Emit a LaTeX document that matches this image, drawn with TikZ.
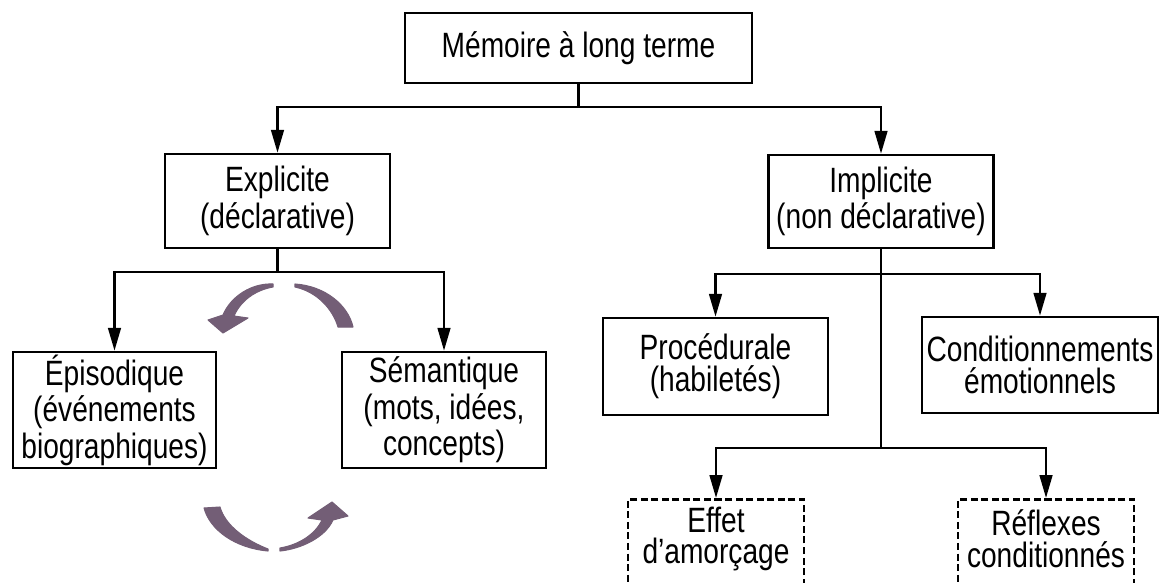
\documentclass[tikz,border=0pt]{standalone}
\usepackage{fontspec}
\setmainfont[FakeStretch=0.8]{Liberation Sans}
\usetikzlibrary{arrows.meta,positioning}

\begin{document}
\begin{tikzpicture}[x=0.01cm, y=-0.01cm,
    box/.style={draw, line width=0.7pt, align=center, inner sep=0pt,
        font=\fontsize{10}{9}\selectfont},
    dashbox/.style={draw, dash pattern=on 2pt off 1pt, line width=0.8pt},
    boxtext/.style={align=center, inner sep=0pt, font=\fontsize{10}{9}\selectfont},
    link/.style={line width=0.7pt},
    arrow/.style={link, -{Triangle[length=6.5pt,width=3.6pt]}},
    cycle/.style={fill=cycleColor, draw=cycleColor, line width=0.3pt, line join=round}]
    % Palette
    \definecolor{cycleColor}{HTML}{735E76}

    \clip (0,0) rectangle (1161,582);
    \fill[white] (0,0) rectangle (1161,582);

    % --- Top ---
    \node[box, minimum width=3.47cm, minimum height=0.70cm] (ltm) at (578.5,48) {Mémoire à long terme};

    % --- Second level ---
    \node[box, minimum width=2.25cm, minimum height=0.94cm] (expl) at (277.5,201) {Explicite\\(déclarative)};
    \node[box, minimum width=2.25cm, minimum height=0.93cm] (impl) at (881,201.5) {Implicite\\(non déclarative)};

    % --- Explicit branch ---
    \node[box, minimum width=2.03cm, minimum height=1.16cm] (epis) at (114.5,410) {Épisodique\\(événements\\biographiques)};
    \node[box, minimum width=2.04cm, minimum height=1.16cm] (sem) at (444,410) {Sémantique\\(mots, idées,\\concepts)};

    % --- Implicit branch ---
    \node[box, minimum width=2.25cm, minimum height=0.97cm] (proc) at (715.5,366.5) {Procédurale\\(habiletés)};
    \node[box, minimum width=2.36cm, minimum height=0.96cm] (cond) at (1040,365) {Conditionnements\\émotionnels};
    \node[dashbox, minimum width=1.76cm, minimum height=1.00cm, anchor=north] (amorc) at (716,498) {};
    \node[boxtext] (amorcText) at (716,539) {Effet\\d'amorçage};
    \node[dashbox, minimum width=1.76cm, minimum height=1.00cm, anchor=north] (refl) at (1046,498) {};
    \node[boxtext] (reflText) at (1046,539) {Réflexes\\conditionnés};

    % --- Connectors ---
    \coordinate (jtop) at (578.5,107);
    \draw[link] (ltm) -- (jtop);
    \draw[arrow] (jtop) -| (expl.north);
    \draw[arrow] (jtop) -| (impl.north);

    \coordinate (jexpl) at (277.5,272);
    \draw[link] (expl) -- (jexpl);
    \draw[arrow] (jexpl) -| (epis.north);
    \draw[arrow] (jexpl) -| (sem.north);

    \coordinate (jimpl) at (881,274);
    \coordinate (jlow) at (881,448);
    \draw[link] (impl) -- (jlow);
    \draw[arrow] (jimpl) -| (proc.north);
    \draw[arrow] (jimpl) -| (cond.north);
    \draw[arrow] (jlow) -| (amorc.north);
    \draw[arrow] (jlow) -| (refl.north);

    % --- Cycle between episodic and semantic ---
    \path[cycle] (273,284) .. controls (252,283) and (231,296) .. (223,315)
        -- (208,320) -- (223,333) -- (248,318) -- (234,316)
        .. controls (241,300) and (256,290) .. (273,287) -- cycle;
    \path[cycle] (295,284) .. controls (325,286) and (348,305) .. (353,327)
        -- (338,327) .. controls (333,310) and (318,292) .. (295,287) -- cycle;
    \path[cycle] (204,508) .. controls (210,530) and (235,548) .. (268,551)
        -- (268,549) .. controls (245,540) and (225,525) .. (220,507) -- cycle;
    \path[cycle] (280,551) .. controls (300,549) and (325,538) .. (333,520)
        -- (348,516) -- (332,502) -- (308,518) -- (322,520)
        .. controls (315,535) and (298,545) .. (280,548) -- cycle;
\end{tikzpicture}
\end{document}
